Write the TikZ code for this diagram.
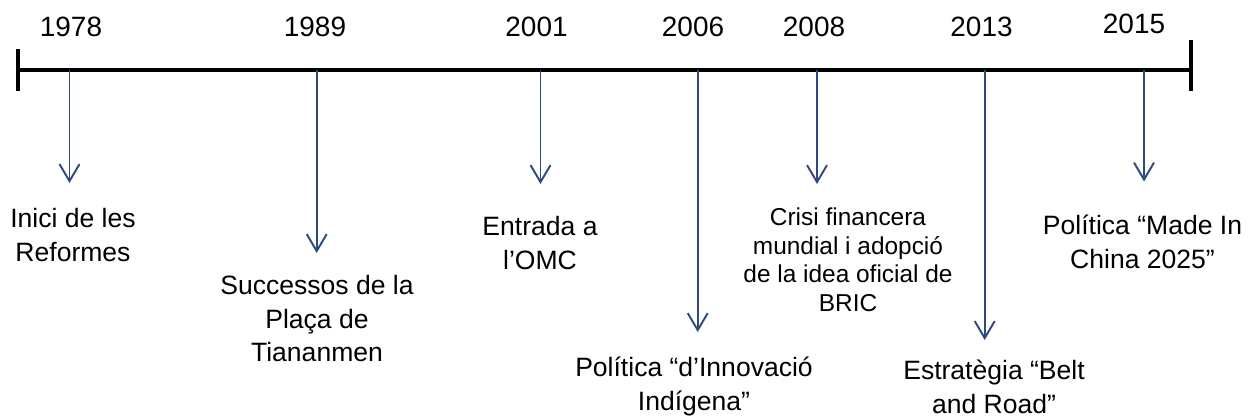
\documentclass[tikz,border=0pt]{standalone}
\usepackage{fontspec}
\setmainfont{Liberation Sans}
\usepackage{xcolor}
\usetikzlibrary{arrows.meta}

\definecolor{arrowblue}{HTML}{2E4A7E}

\begin{document}
\begin{tikzpicture}[
    yearlabel/.style={anchor=base, inner sep=0pt, font=\fontsize{15.9}{19}\selectfont},
    eventlabel/.style={anchor=base, inner sep=0pt, align=center, font=\fontsize{15.1}{19.1}\selectfont},
    smallevent/.style={eventlabel, font=\fontsize{13.9}{16.2}\selectfont},
    eventarrow/.style={-{Straight Barb[length=0.34cm, width=0.4cm]}, arrowblue, line width=1.1pt},
    timeline/.style={line width=2.3pt}
]

\useasboundingbox (0,0) rectangle (25.04,8.36);

%==============================================================================
% Time axis
%==============================================================================
\coordinate (start) at (0.357, 6.96);
\coordinate (end) at (23.82, 6.96);
\coordinate (starttop) at (0.357, 7.38);
\coordinate (startbot) at (0.357, 6.54);
\coordinate (endtop) at (23.82, 7.56);
\coordinate (endbot) at (23.82, 6.55);

\draw[timeline] (start) -- (end);
\draw[timeline] (starttop) -- (startbot);
\draw[timeline] (endtop) -- (endbot);

%==============================================================================
% Years
%==============================================================================
\node[yearlabel] (y1978) at (1.42, 7.63) {1978};
\node[yearlabel] (y1989) at (6.30, 7.63) {1989};
\node[yearlabel] (y2001) at (10.73, 7.63) {2001};
\node[yearlabel] (y2006) at (13.86, 7.63) {2006};
\node[yearlabel] (y2008) at (16.28, 7.63) {2008};
\node[yearlabel] (y2013) at (19.63, 7.63) {2013};
\node[yearlabel] (y2015) at (22.68, 7.69) {2015};

%==============================================================================
% Arrows down from the axis
%==============================================================================
\coordinate (a1978) at (1.39, 6.96);
\coordinate (a1989) at (6.334, 6.96);
\coordinate (a2001) at (10.81, 6.96);
\coordinate (a2006) at (13.954, 6.96);
\coordinate (a2008) at (16.34, 6.96);
\coordinate (a2013) at (19.694, 6.96);
\coordinate (a2015) at (22.88, 6.96);

\coordinate (e1978) at (1.39, 4.70);
\coordinate (e1989) at (6.334, 3.30);
\coordinate (e2001) at (10.81, 4.68);
\coordinate (e2006) at (13.954, 1.72);
\coordinate (e2008) at (16.34, 4.68);
\coordinate (e2013) at (19.694, 1.56);
\coordinate (e2015) at (22.88, 4.73);

\draw[eventarrow] (a1978) -- (e1978);
\draw[eventarrow] (a1989) -- (e1989);
\draw[eventarrow] (a2001) -- (e2001);
\draw[eventarrow] (a2006) -- (e2006);
\draw[eventarrow] (a2008) -- (e2008);
\draw[eventarrow] (a2013) -- (e2013);
\draw[eventarrow] (a2015) -- (e2015);

%==============================================================================
% Events (placed at the baseline of their last line)
%==============================================================================
\node[eventlabel] (reformes) at (1.46, 3.13) {Inici de les\\Reformes};
\node[eventlabel] (tiananmen) at (6.34, 1.126) {Successos de la\\Plaça de\\Tiananmen};
\node[eventlabel] (omc) at (10.80, 2.974) {Entrada a\\l’OMC};
\node[eventlabel] (innovacio) at (13.88, 0.16) {Política “d’Innovació\\Indígena”};
\node[smallevent] (crisi) at (16.96, 2.14) {Crisi financera\\mundial i adopció\\de la idea oficial de\\BRIC};
\node[eventlabel] (beltroad) at (19.88, 0.10) {Estratègia “Belt\\and Road”};
\node[eventlabel] (madeinchina) at (22.85, 3.00) {Política “Made In\\China 2025”};

\end{tikzpicture}
\end{document}
